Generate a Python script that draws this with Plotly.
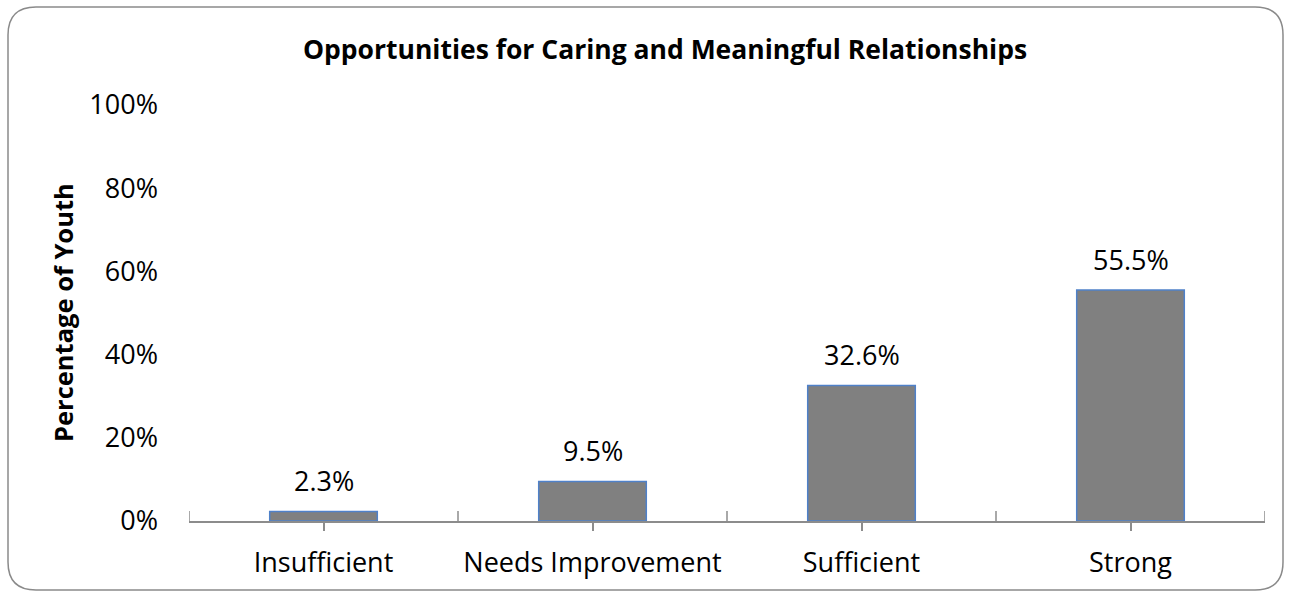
import plotly.graph_objects as go

categories = ["Insufficient", "Needs Improvement", "Sufficient", "Strong"]
values = [0.023, 0.095, 0.326, 0.555]
labels = ["2.3%", "9.5%", "32.6%", "55.5%"]
y_ticks = [0, 0.2, 0.4, 0.6, 0.8, 1.0]
y_ticktext = ["0%", "20%", "40%", "60%", "80%", "100%"]

W, H = 1291, 597
L, R, T, B = 189, 26, 105, 76
PW, PH = W - L - R, H - T - B
FONT = "'Open Sans', 'Noto Sans', sans-serif"
AXIS_COL = "#8c8c8c"

xs = list(range(len(categories)))

fig = go.Figure()
fig.add_trace(go.Bar(
    x=xs, y=values, width=0.4,
    marker=dict(color="#808080", line=dict(color="#4f81c9", width=1.5)),
    hoverinfo="skip",
))

annotations = []
for x, v, t in zip(xs, values, labels):
    annotations.append(dict(x=x, y=v, xref="x", yref="y", text=t, showarrow=False,
                            yanchor="bottom", yshift=10,
                            font=dict(family=FONT, size=27, color="#000")))
# y axis title
annotations.append(dict(x=0, y=0.5, xref="paper", yref="paper", xshift=-(L - 63),
                        xanchor="center", yanchor="middle",
                        text="<b>Percentage of Youth</b>", textangle=-90, showarrow=False,
                        font=dict(family=FONT, size=25.5, color="#000")))

def px2x(p):
    return (p - L) / PW

def py2y(p):
    return (H - B - p) / PH

shapes = []
# boundary ticks crossing the axis
for b in [i - 0.5 for i in range(len(categories) + 1)]:
    shapes.append(dict(type="line", xref="x", yref="y", xsizemode="scaled", ysizemode="pixel",
                       yanchor=0, x0=b, x1=b, y0=-11, y1=10,
                       line=dict(color=AXIS_COL, width=1.5), layer="below"))

# rounded chart border
x0, x1, y0, y1, r = 8, 1283, 7, 590, 28
path = (f"M {px2x(x0 + r)},{py2y(y0)} L {px2x(x1 - r)},{py2y(y0)} "
        f"Q {px2x(x1)},{py2y(y0)} {px2x(x1)},{py2y(y0 + r)} "
        f"L {px2x(x1)},{py2y(y1 - r)} Q {px2x(x1)},{py2y(y1)} {px2x(x1 - r)},{py2y(y1)} "
        f"L {px2x(x0 + r)},{py2y(y1)} Q {px2x(x0)},{py2y(y1)} {px2x(x0)},{py2y(y1 - r)} "
        f"L {px2x(x0)},{py2y(y0 + r)} Q {px2x(x0)},{py2y(y0)} {px2x(x0 + r)},{py2y(y0)} Z")
shapes.append(dict(type="path", xref="paper", yref="paper", path=path,
                   line=dict(color="#8a8a8a", width=1.5), layer="below"))

fig.update_layout(
    width=W, height=H,
    margin=dict(l=L, r=R, t=T, b=B, autoexpand=False),
    paper_bgcolor="white", plot_bgcolor="white",
    showlegend=False,
    title=dict(text="<b>Opportunities for Caring and Meaningful Relationships</b>",
               x=665 / W, xanchor="center", xref="container",
               y=1 - 50 / H, yanchor="middle", yref="container",
               font=dict(family=FONT, size=26.5, color="#000")),
    xaxis=dict(range=[-0.5, len(categories) - 0.5], tickvals=xs, ticktext=categories,
               showgrid=False, zeroline=False, showline=True, linecolor=AXIS_COL, linewidth=1.5,
               ticks="outside", ticklen=8, tickcolor=AXIS_COL, tickwidth=1.5,
               ticklabelstandoff=9, layer="below traces",
               tickfont=dict(family=FONT, size=27, color="#000")),
    yaxis=dict(range=[0, 1], tickvals=y_ticks, ticktext=y_ticktext,
               showgrid=False, zeroline=False, showline=False, ticks="",
               ticklabelstandoff=30,
               tickfont=dict(family=FONT, size=27, color="#000")),
    annotations=annotations,
    shapes=shapes,
)

fig.write_html("out.html", config={"displayModeBar": False},
               post_script="document.body.style.margin='0';document.body.style.overflow='hidden';")
